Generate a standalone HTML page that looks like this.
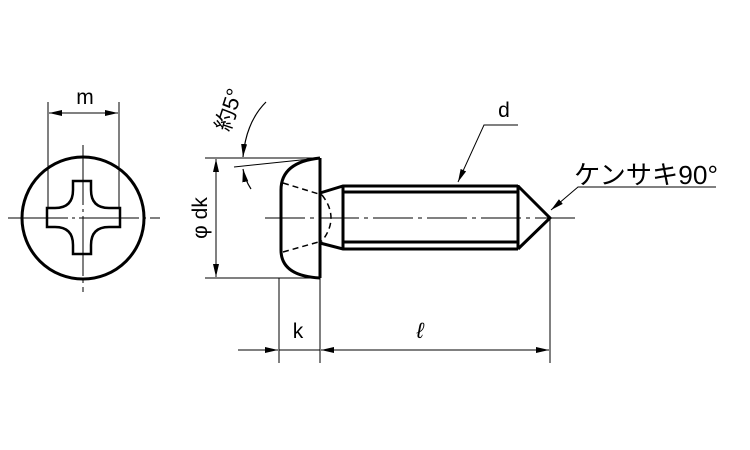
<!DOCTYPE html>
<html><head><meta charset="utf-8"><style>
html,body{margin:0;padding:0;background:#fff;}
svg{display:block;}
text{font-family:"Liberation Sans","Noto Sans CJK JP",sans-serif;fill:#000;}
</style></head><body>
<svg width="750" height="450" viewBox="0 0 750 450" xmlns="http://www.w3.org/2000/svg">
<defs>
<marker id="a" markerWidth="14" markerHeight="8" refX="13" refY="4" orient="auto" markerUnits="userSpaceOnUse">
<path d="M0,1 L13,4 L0,7 Z" fill="#000"/></marker>
</defs>
<g stroke="#000" fill="none">
<circle cx="83" cy="218" r="61" stroke-width="3"/>
<path d="M73,181 H91 V190 Q91,208 109,208 H120 V227 H109 Q91,227 91,245 V254 H73 V245 Q73,227 55,227 H47 V208 H55 Q73,208 73,190 Z" stroke-width="2.5"/>
<line x1="8" y1="218" x2="160" y2="218" stroke-width="1" stroke-dasharray="60,4,3,4"/>
<line x1="83" y1="145" x2="83" y2="292" stroke-width="1" stroke-dasharray="60,4,3,4"/>
<line x1="48" y1="102" x2="48" y2="208" stroke-width="1"/>
<line x1="119" y1="102" x2="119" y2="208" stroke-width="1"/>
<line x1="60" y1="113" x2="49" y2="113" stroke-width="1" marker-end="url(#a)"/>
<line x1="60" y1="113" x2="118" y2="113" stroke-width="1" marker-end="url(#a)"/>
<path d="M320,158 V278 M320,158 Q281,162 281,190 V250 Q281,276 320,278" stroke-width="3"/>
<path d="M283,183 L322,195 M283,252 L322,241 M322,195 Q340,218 322,241" stroke-width="1.5" stroke-dasharray="6,4"/>
<path d="M320,193 L343,186 H518 M320,243 L343,249 H518 M343,186 V249 M343,192 H518 M343,242 H518 M518,185 V249 M518,186 L550,218 L518,249" stroke-width="3"/>
<line x1="265" y1="218" x2="577" y2="218" stroke-width="1" stroke-dasharray="40,5,4,5"/>
<line x1="205" y1="158" x2="320" y2="158" stroke-width="1"/>
<line x1="205" y1="278" x2="320" y2="278" stroke-width="1"/>
<line x1="216" y1="218" x2="216" y2="159" stroke-width="1" marker-end="url(#a)"/>
<line x1="216" y1="218" x2="216" y2="277" stroke-width="1" marker-end="url(#a)"/>
<line x1="234" y1="167" x2="320" y2="158" stroke-width="1"/>
<path d="M266,102 Q246,122 243,157" stroke-width="1.2" marker-end="url(#a)"/>
<path d="M251,189 Q245,180 243,169" stroke-width="1.2" marker-end="url(#a)"/>
<line x1="279" y1="278" x2="279" y2="363" stroke-width="1"/>
<line x1="320" y1="278" x2="320" y2="363" stroke-width="1"/>
<line x1="550" y1="218" x2="550" y2="363" stroke-width="1"/>
<line x1="238" y1="350" x2="278" y2="350" stroke-width="1" marker-end="url(#a)"/>
<line x1="279" y1="350" x2="320" y2="350" stroke-width="1"/>
<line x1="435" y1="350" x2="321" y2="350" stroke-width="1" marker-end="url(#a)"/>
<line x1="435" y1="350" x2="549" y2="350" stroke-width="1" marker-end="url(#a)"/>
<polyline points="518,125 484,125 458,182" stroke-width="1" marker-end="url(#a)"/>
<polyline points="716,187 578,187 551,210" stroke-width="1" marker-end="url(#a)"/>
</g>
<text x="85" y="104" font-size="21" text-anchor="middle">m</text>
<text x="504" y="117" font-size="21" text-anchor="middle">d</text>
<text x="298" y="338" font-size="21" text-anchor="middle">k</text>
<text x="420" y="338" font-size="22" font-style="italic" text-anchor="middle" font-family="Liberation Serif">ℓ</text>
<text x="574" y="184" font-size="26" textLength="144" lengthAdjust="spacingAndGlyphs">ケンサキ90°</text>
<text transform="translate(207,218) rotate(-90)" font-size="21" text-anchor="middle">φ dk</text>
<text transform="translate(236,112) rotate(-72)" font-size="22" text-anchor="middle">約5°</text>
</svg>
</body></html>
